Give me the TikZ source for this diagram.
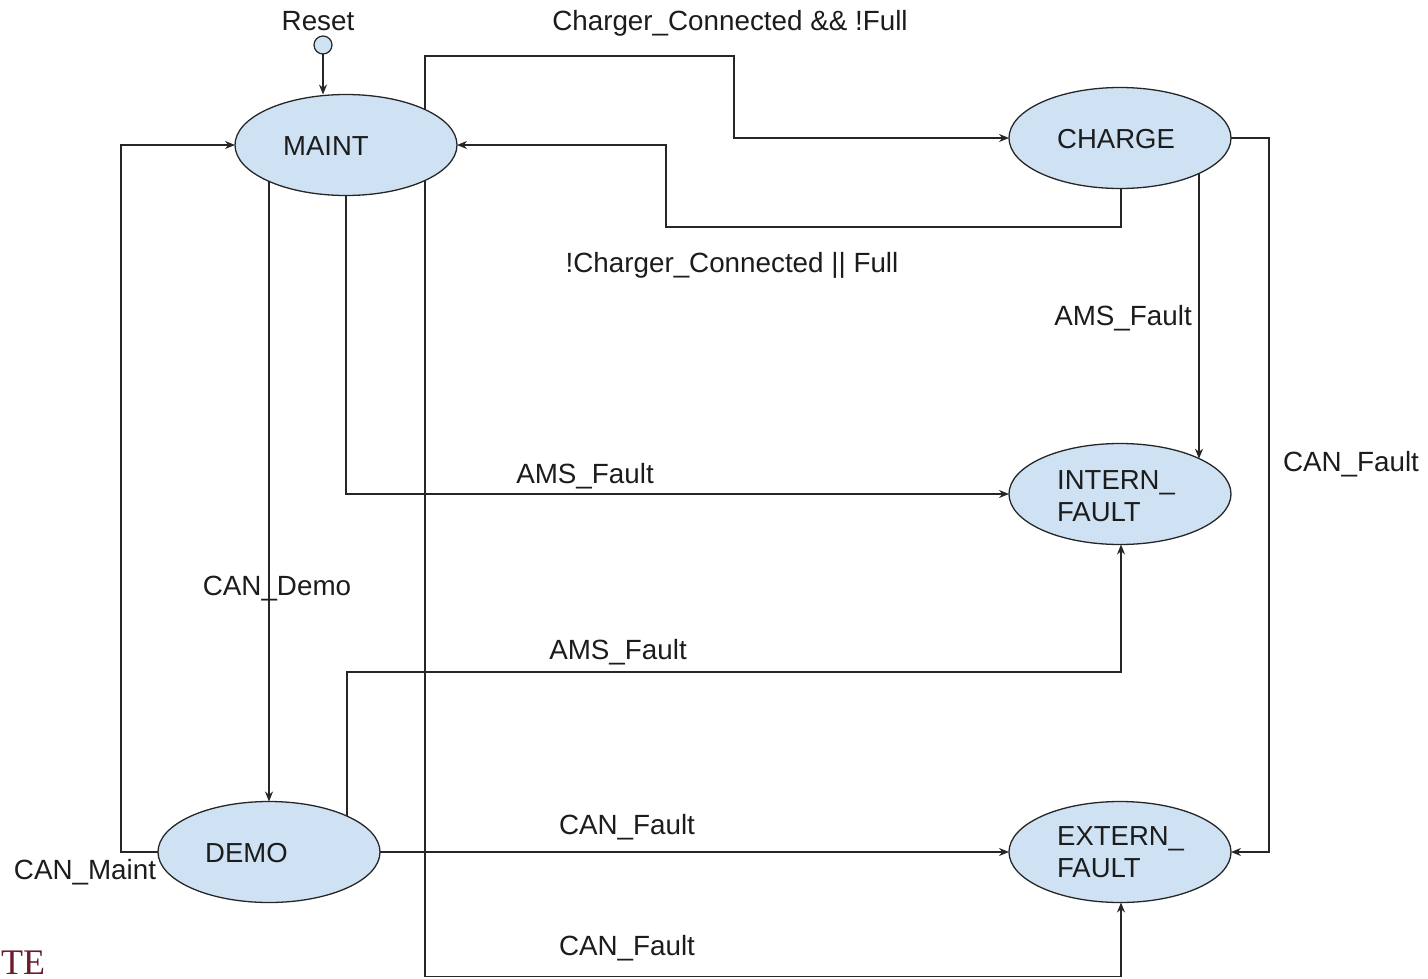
\documentclass[tikz,border=0pt]{standalone}
\usepackage{fontspec}
\setmainfont{Liberation Sans}
\newfontfamily\serifTE{Liberation Serif}
\usetikzlibrary{shapes.geometric,arrows.meta,backgrounds}
\definecolor{stateblue}{HTML}{CFE2F3}
\definecolor{txt}{HTML}{1C1C1C}
\definecolor{linec}{HTML}{262626}
\definecolor{tered}{HTML}{6B1B2E}
\tikzset{
  state/.style={ellipse, draw=linec, fill=stateblue, line width=1.3pt,
    minimum width=222pt, minimum height=101pt, inner sep=0pt, outer sep=0pt},
  stxt/.style={font=\fontsize{27.5}{32}\selectfont, text=txt, inner sep=0pt, anchor=west, align=left},
  lbl/.style={font=\fontsize{27.8}{32}\selectfont, text=txt, inner sep=0pt, anchor=base},
  conn/.style={line width=1.4pt, draw=linec, -{Stealth[length=10pt,width=8pt]}},
}
\begin{document}
\begin{tikzpicture}[x=1pt,y=-1pt]
\useasboundingbox (0,0) rectangle (1428,978);
% states
\node[state] (MAINT) at (346,145) {};
\node[stxt] (tMAINT) at (283,146) {MAINT};
\node[state] (CHARGE) at (1120,138) {};
\node[stxt] (tCHARGE) at (1057,139) {CHARGE};
\node[state] (INTERN) at (1120,494) {};
\node[stxt] (tINTERN) at (1057,496) {INTERN\_\\FAULT};
\node[state] (EXTERN) at (1120,852) {};
\node[stxt] (tEXTERN) at (1057,852) {EXTERN\_\\FAULT};
\node[state] (DEMO) at (269,852) {};
\node[stxt] (tDEMO) at (205,853) {DEMO};
% reset
\node[circle, draw=linec, fill=stateblue, line width=1.2pt, minimum size=18pt, inner sep=0pt, outer sep=0pt] (reset) at (323,45) {};
\node[lbl] (lreset) at (318,30) {Reset};
% helper columns
\coordinate (x425) at (425,0);
\coordinate (x1199) at (1199,0);
\coordinate (x1121) at (1121,0);
\coordinate (x269) at (269,0);
\coordinate (x347) at (347,0);
\begin{pgfonlayer}{background}
% reset -> maint
\draw[conn] (reset) -- (MAINT.north -| reset);
% maint -> charge
\draw[conn] (MAINT.center -| x425) -- (425,56) -- (734,56) -- (734,138) -- (CHARGE.west);
% charge -> maint
\draw[conn] (CHARGE.center -| x1121) -- (1121,227) -- (666,227) -- (666,145) -- (MAINT.east);
% charge -> intern
\draw[conn] (CHARGE.center -| x1199) -- (INTERN.24 -| x1199);
% charge -> extern
\draw[conn] (CHARGE.east) -- (1269,138) -- (1269,852) -- (EXTERN.east);
% maint -> intern
\draw[conn] (MAINT.center) -- (346,494) -- (INTERN.west);
% maint -> demo
\draw[conn] (MAINT.center -| x269) -- (DEMO.north -| x269);
% demo -> maint
\draw[conn] (DEMO.west) -- (121,852) -- (121,145) -- (MAINT.west);
% demo -> intern
\draw[conn] (DEMO.center -| x347) -- (347,672) -- (1121,672) -- (INTERN.south -| x1121);
% demo -> extern
\draw[conn] (DEMO.east) -- (EXTERN.west);
% maint -> extern
\draw[conn] (MAINT.center -| x425) -- (425,976.5) -- (1121,976.5) -- (EXTERN.south -| x1121);
\end{pgfonlayer}
% labels
\node[lbl] (l1) at (730,30) {Charger\_Connected \&\& !Full};
\node[lbl] (l2) at (732,272) {!Charger\_Connected || Full};
\node[lbl] (l3) at (1123,325) {AMS\_Fault};
\node[lbl] (l4) at (1351,471) {CAN\_Fault};
\node[lbl] (l5) at (585,483) {AMS\_Fault};
\node[lbl] (l6) at (277,595) {CAN\_Demo};
\node[lbl] (l7) at (618,659) {AMS\_Fault};
\node[lbl] (l8) at (627,834) {CAN\_Fault};
\node[lbl] (l9) at (85,879) {CAN\_Maint};
\node[lbl] (l10) at (627,955) {CAN\_Fault};
% fragment at lower left
\node[font=\serifTE\fontsize{36}{40}\selectfont, text=tered, inner sep=0pt, anchor=base west] (te) at (1,974) {TE};
\end{tikzpicture}
\end{document}
